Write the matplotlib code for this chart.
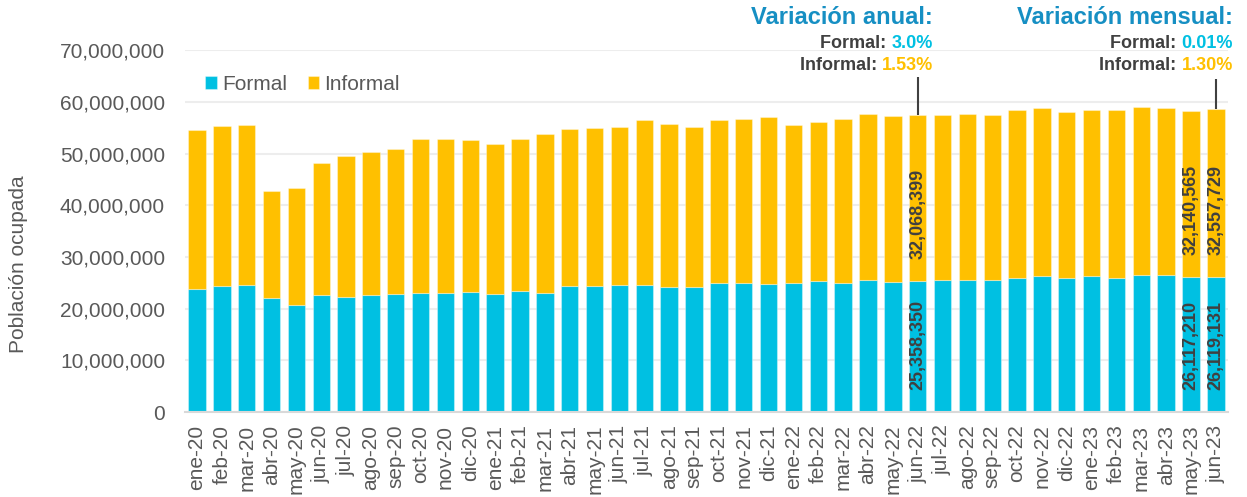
import matplotlib.pyplot as plt
from matplotlib.ticker import FuncFormatter

plt.rcParams['font.family'] = ['Liberation Sans', 'DejaVu Sans']

meses = ["ene-20", "feb-20", "mar-20", "abr-20", "may-20", "jun-20", "jul-20", "ago-20",
         "sep-20", "oct-20", "nov-20", "dic-20", "ene-21", "feb-21", "mar-21", "abr-21",
         "may-21", "jun-21", "jul-21", "ago-21", "sep-21", "oct-21", "nov-21", "dic-21",
         "ene-22", "feb-22", "mar-22", "abr-22", "may-22", "jun-22", "jul-22", "ago-22",
         "sep-22", "oct-22", "nov-22", "dic-22", "ene-23", "feb-23", "mar-23", "abr-23",
         "may-23", "jun-23"]

# Población ocupada formal (estimada del gráfico, salvo valores etiquetados)
formal = [23.8e6, 24.3e6, 24.6e6, 22.15e6, 20.8e6, 22.55e6, 22.2e6, 22.55e6,
          22.9e6, 23.1e6, 23.05e6, 23.25e6, 22.9e6, 23.45e6, 23.1e6, 24.3e6,
          24.35e6, 24.5e6, 24.5e6, 24.2e6, 24.1e6, 25.0e6, 25.0e6, 24.7e6,
          25.0e6, 25.4e6, 25.0e6, 25.6e6, 25.25e6, 25358350, 25.5e6, 25.6e6,
          25.45e6, 26.0e6, 26.35e6, 26.0e6, 26.35e6, 25.85e6, 26.5e6, 26.5e6,
          26117210, 26119131]

# Población ocupada total (formal + informal)
total = [54.6e6, 55.4e6, 55.6e6, 42.8e6, 43.35e6, 48.1e6, 49.6e6, 50.25e6,
         50.9e6, 52.8e6, 52.8e6, 52.65e6, 51.9e6, 52.8e6, 53.7e6, 54.8e6,
         55.0e6, 55.1e6, 56.4e6, 55.7e6, 55.1e6, 56.4e6, 56.6e6, 57.0e6,
         55.55e6, 56.1e6, 56.7e6, 57.75e6, 57.2e6, 57426749, 57.5e6, 57.7e6,
         57.55e6, 58.5e6, 58.9e6, 57.95e6, 58.4e6, 58.4e6, 59.05e6, 58.9e6,
         58257775, 58676860]

informal = [t - f for t, f in zip(total, formal)]
informal[29] = 32068399
informal[40] = 32140565
informal[41] = 32557729

etiquetados = [29, 40, 41]

c_formal = "#00C0E2"
c_informal = "#FFC000"
c_titulo = "#168FC3"
c_texto = "#404040"
c_eje = "#595959"

fig = plt.figure(figsize=(12.47, 4.97), dpi=100)
ax = fig.add_axes([0.148, 0.171, 0.837, 0.728])

x = list(range(len(meses)))
ax.bar(x, formal, width=0.7, color=c_formal, edgecolor=(1, 1, 1, 0.35),
       linewidth=0.8, label="Formal", zorder=2)
ax.bar(x, informal, width=0.7, bottom=formal, color=c_informal,
       edgecolor=(1, 1, 1, 0.35), linewidth=0.8, label="Informal", zorder=2)

ax.set_xlim(-0.5, len(meses) - 0.5)
ax.set_ylim(0, 70e6)
ax.set_yticks([i * 10e6 for i in range(8)])
ax.yaxis.set_major_formatter(FuncFormatter(lambda v, p: f"{v:,.0f}"))
ax.set_xticks(x)
ax.set_xticklabels(meses, rotation=90)
ax.tick_params(axis='y', length=0, pad=14, labelsize=15, labelcolor=c_eje)
ax.tick_params(axis='x', length=0, pad=9, labelsize=15, labelcolor=c_eje)
ax.grid(axis='y', color="#EDEDED", linewidth=1.5, zorder=0)
ax.set_axisbelow(True)
for s in ["top", "right", "left"]:
    ax.spines[s].set_visible(False)
ax.spines["bottom"].set_color("#D9D9D9")
ax.spines["bottom"].set_linewidth(1.5)

ax.set_ylabel("Población ocupada", fontsize=15, color=c_eje, labelpad=23)
ax.yaxis.label.set_y(0.409)

ax.legend(loc="center left", bbox_to_anchor=(0.02, 0.906), frameon=False,
          fontsize=15, ncol=2, handlelength=0.55, handleheight=0.55,
          handletextpad=0.25, columnspacing=1.0, borderpad=0, borderaxespad=0,
          labelcolor=c_eje)

# Etiquetas dentro de las barras
for i in etiquetados:
    ax.annotate(f"{formal[i]:,.0f}", (i, 0), xytext=(0, 15.5), textcoords="offset points",
                rotation=90, ha="center", va="bottom", fontsize=13, fontweight="bold",
                color=c_texto, zorder=3)
    ax.annotate(f"{informal[i]:,.0f}", (i, formal[i]), xytext=(0, 15.5),
                textcoords="offset points", rotation=90, ha="center", va="bottom",
                fontsize=13, fontweight="bold", color=c_texto, zorder=3)

# Líneas guía hacia las anotaciones
ax.vlines([29, 41], [total[29], total[41]], [64.9e6, 64.4e6], color=c_texto,
          linewidth=1.5, zorder=3)

W, H = 1247, 497


def fx(px):
    return px / W


def fy(py):
    return 1 - py / H


fig.text(fx(933), fy(18), "Variación anual:", ha="right", va="center",
         fontsize=17, fontweight="bold", color=c_titulo)
fig.text(fx(1233), fy(18), "Variación mensual:", ha="right", va="center",
         fontsize=17, fontweight="bold", color=c_titulo)

anotaciones = [
    (933, 44, "Formal: ", "3.0%", c_formal),
    (933, 66, "Informal: ", "1.53%", c_informal),
    (1233, 44, "Formal: ", "0.01%", c_formal),
    (1233, 66, "Informal: ", "1.30%", c_informal),
]
fig.canvas.draw()
renderer = fig.canvas.get_renderer()
for px, py, lab, val, col in anotaciones:
    t = fig.text(fx(px), fy(py), val, ha="right", va="center", fontsize=13,
                 fontweight="bold", color=col)
    bb = t.get_window_extent(renderer)
    fig.text(bb.x0 / W, fy(py), lab, ha="right", va="center", fontsize=13,
             fontweight="bold", color=c_texto)

fig.savefig("out.png", dpi=100)
